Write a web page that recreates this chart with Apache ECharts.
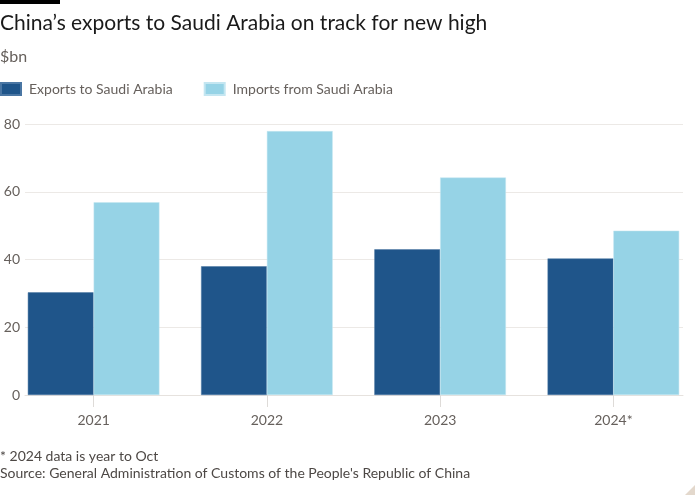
<!DOCTYPE html>
<html><head><meta charset="utf-8">
<script src="https://cdn.jsdelivr.net/npm/echarts@6/dist/echarts.min.js"></script>
<style>html,body{margin:0;padding:0;background:#fff}#c{width:700px;height:500px}</style>
</head><body><div id="c"></div>
<script>
var categories = ['2021', '2022', '2023', '2024*'];
var exportsData = [30.3, 38.0, 43.0, 40.3];
var importsData = [56.9, 77.9, 64.2, 48.5];
var yTicks = [0, 20, 40, 60, 80];

var FONT = 'Lato, "Noto Sans", sans-serif';
var chart = echarts.init(document.getElementById('c'));
chart.setOption({
  backgroundColor: '#ffffff',
  animation: false,
  textStyle: { fontFamily: FONT },
  legend: {
    left: -5, top: 77, itemWidth: 20, itemHeight: 12, itemGap: 31,
    icon: 'rect',
    textStyle: { color: '#66605c', fontSize: 14, fontFamily: FONT, padding: [0, 0, 0, 3] },
    data: ['Exports to Saudi Arabia', 'Imports from Saudi Arabia']
  },
  grid: [
    { left: 7, right: -3, top: 124, bottom: 105 },
    { left: 25, right: 17, top: 124, bottom: 105 }
  ],
  xAxis: [
    { type: 'category', gridIndex: 0, data: categories,
      axisLine: { show: false },
      axisTick: { show: true, alignWithLabel: true, length: 12, lineStyle: { color: '#dedbd8' } },
      axisLabel: { color: '#66605c', fontSize: 14, margin: 18, fontFamily: FONT } },
    { type: 'category', gridIndex: 1, data: categories, show: true,
      axisLine: { show: true, lineStyle: { color: '#e6e2de', width: 1 } },
      axisTick: { show: false }, axisLabel: { show: false } }
  ],
  yAxis: [
    { type: 'value', gridIndex: 0, min: yTicks[0], max: yTicks[yTicks.length - 1], interval: 20,
      axisLabel: { show: false }, splitLine: { show: false }, axisLine: { show: false }, axisTick: { show: false } },
    { type: 'value', gridIndex: 1, min: yTicks[0], max: yTicks[yTicks.length - 1], interval: 20,
      axisLine: { show: false }, axisTick: { show: false },
      axisLabel: { color: '#66605c', fontSize: 14, margin: 5, fontFamily: FONT,
        formatter: function (v) { return yTicks.indexOf(v) >= 0 ? String(v) : ''; } },
      splitLine: { lineStyle: { color: '#ece9e6', width: 1 } } }
  ],
  series: [
    { name: 'Exports to Saudi Arabia', type: 'bar', xAxisIndex: 0, yAxisIndex: 0,
      data: exportsData, barWidth: 65.8, barGap: '0%',
      itemStyle: { color: '#1f558a', borderColor: '#4a76a3', borderWidth: 0.5 } },
    { name: 'Imports from Saudi Arabia', type: 'bar', xAxisIndex: 0, yAxisIndex: 0,
      data: importsData, barWidth: 65.8, barGap: '0%',
      itemStyle: { color: '#96d3e6', borderColor: '#c4e6f1', borderWidth: 0.5 } }
  ],
  graphic: [
    { type: 'rect', left: 0, top: 0, shape: { width: 60, height: 4 }, style: { fill: '#000' } },
    { type: 'text', left: 0, top: 13, style: { text: 'China\u2019s exports to Saudi Arabia on track for new high', fill: '#1a1a1a', fontSize: 21, fontFamily: FONT } },
    { type: 'text', left: 0, top: 49, style: { text: '$bn', fill: '#66605c', fontSize: 16, fontFamily: FONT } },
    { type: 'text', left: 0, top: 449, style: { text: '* 2024 data is year to Oct', fill: '#4d4845', fontSize: 14, fontFamily: FONT } },
    { type: 'text', left: 0, top: 466, style: { text: "Source: General Administration of Customs of the People's Republic of China", fill: '#4d4845', fontSize: 14, fontFamily: FONT } },
    { type: 'polygon', shape: { points: [[685, 495], [695, 485], [695, 495]] }, style: { fill: '#e3d8cc' } }
  ]
});
</script></body></html>
